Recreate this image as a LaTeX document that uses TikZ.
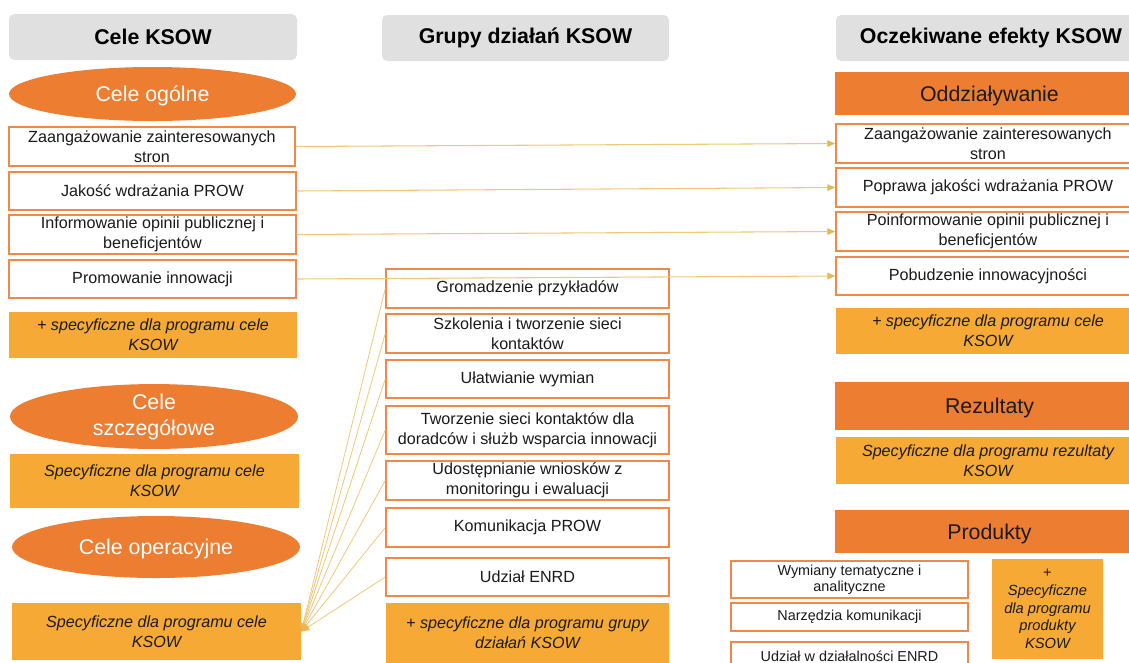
\documentclass[tikz,border=0pt]{standalone}
\usepackage{fontspec}
\setmainfont{Liberation Sans}
\usetikzlibrary{shapes.geometric,arrows.meta}
\definecolor{headgray}{HTML}{E0E0E0}
\definecolor{darkorange}{HTML}{ED7D31}
\definecolor{lightorange}{HTML}{F6A935}
\definecolor{boxborder}{HTML}{F0884A}
\definecolor{linkgold}{HTML}{F0C878}
\definecolor{tipgold}{HTML}{E8B84A}
\definecolor{ink}{HTML}{1A1A1A}
\newcommand{\bodyfont}{\fontsize{12.1}{15}\selectfont}
\newcommand{\smallfont}{\fontsize{10.8}{11.8}\selectfont}
\newcommand{\headfont}{\fontsize{16}{19}\selectfont\bfseries}
\newcommand{\bigfont}{\fontsize{16}{19.5}\selectfont}
% a node filling the rectangle with corners (x1,y1) and (x2,y2), in pixel units
% #1 style, #2 name, #3 x1, #4 y1, #5 x2, #6 y2, #7 text
\newcommand{\areanode}[7]{%
  \node[#1, minimum width={0.75pt*(#5-#3)}, minimum height={0.75pt*(#6-#4)}]
    (#2) at ({(#3+#5)/2},{(#4+#6)/2}) {#7};}
\begin{document}
\begin{tikzpicture}[x=0.75pt,y=-0.75pt,
  header/.style={fill=headgray, rounded corners=4pt, inner sep=0pt, font=\headfont, text=black},
  goal/.style={ellipse, fill=darkorange, inner sep=0pt, font=\bigfont, text=white, align=center},
  oneline/.style={text depth=0pt},
  band/.style={fill=darkorange, inner sep=0pt, font=\bigfont, text=ink, oneline},
  box/.style={draw=boxborder, fill=white, line width=1.1pt, inner sep=0pt, align=center, font=\bodyfont, text=ink},
  sbox/.style={box, font=\smallfont},
  extra/.style={fill=lightorange, inner sep=0pt, align=center, font=\bodyfont\itshape, text=ink},
  conn/.style={draw=linkgold, line width=0.8pt, -{Triangle[length=6pt,width=5pt,color=tipgold]}},
  fan/.style={draw=linkgold, line width=0.6pt, -{Triangle[length=6pt,width=5pt,color=tipgold]}}
]
\useasboundingbox (0,0) rectangle (1129,662);
\clip (0,0) rectangle (1129,662);

% column headers
\areanode{header}{h1}{9}{14}{297}{60}{Cele KSOW}
\areanode{header}{h2}{382}{15}{669}{61}{Grupy działań KSOW}
\areanode{header}{h3}{836}{15}{1146}{61}{Oczekiwane efekty KSOW}

% left column: goals
\areanode{goal, oneline}{g1}{9}{67}{296}{121}{Cele ogólne}
\areanode{box}{l1}{9}{127}{295}{166}{Zaangażowanie zainteresowanych\\stron}
\areanode{box}{l2}{9}{172}{296}{210}{Jakość wdrażania PROW}
\areanode{box}{l3}{9}{215}{296}{254}{Informowanie opinii publicznej i\\beneficjentów}
\areanode{box}{l4}{9}{260}{296}{298}{Promowanie innowacji}
\areanode{extra}{l5}{9}{312}{297}{358}{+ specyficzne dla programu cele\\KSOW}
\areanode{goal}{g2}{10}{386}{298}{447}{Cele\\szczegółowe}
\areanode{extra}{l6}{10}{454}{299}{508}{Specyficzne dla programu cele\\KSOW}
\areanode{goal, oneline}{g3}{12}{516}{300}{578}{Cele operacyjne}
\areanode{extra}{ops}{12}{603}{301}{660}{Specyficzne dla programu cele\\KSOW}

% middle column: groups of activities
\areanode{box}{m1}{386}{269}{669}{308}{Gromadzenie przykładów}
\areanode{box}{m2}{386}{314}{669}{353}{Szkolenia i tworzenie sieci\\kontaktów}
\areanode{box}{m3}{386}{360}{669}{398}{Ułatwianie wymian}
\areanode{box}{m4}{386}{406}{669}{454}{Tworzenie sieci kontaktów dla\\doradców i służb wsparcia innowacji}
\areanode{box}{m5}{386}{461}{669}{500}{Udostępnianie wniosków z\\monitoringu i ewaluacji}
\areanode{box}{m6}{386}{508}{669}{547}{Komunikacja PROW}
\areanode{box}{m7}{386}{558}{669}{596}{Udział ENRD}
\areanode{extra}{m8}{386}{603}{669}{663}{+ specyficzne dla programu grupy\\działań KSOW}

% right column: expected effects
\areanode{band}{r0}{835}{72}{1144}{115}{Oddziaływanie}
\areanode{box}{r1}{836}{124}{1140}{163}{Zaangażowanie zainteresowanych\\stron}
\areanode{box}{r2}{836}{168}{1140}{207}{Poprawa jakości wdrażania PROW}
\areanode{box}{r3}{836}{212}{1140}{251}{Poinformowanie opinii publicznej i\\beneficjentów}
\areanode{box}{r4}{836}{257}{1140}{295}{Pobudzenie innowacyjności}
\areanode{extra}{r5}{836}{308}{1140}{354}{+ specyficzne dla programu cele\\KSOW}
\areanode{band}{rr}{835}{382}{1144}{430}{Rezultaty}
\areanode{extra}{rr1}{836}{437}{1140}{484}{Specyficzne dla programu rezultaty\\KSOW}
\areanode{band}{rp}{835}{510}{1144}{553}{Produkty}
\areanode{sbox}{p1}{731}{561}{968}{598}{Wymiany tematyczne i\\analityczne}
\areanode{sbox}{p2}{731}{603}{968}{631}{Narzędzia komunikacji}
\areanode{sbox}{p3}{731}{642}{968}{670}{Udział w działalności ENRD}
\areanode{extra, font=\fontsize{11}{13.3}\selectfont\itshape}{p4}{992}{559}{1103}{659}{\upshape+\\Specyficzne\\dla programu\\produkty\\KSOW}

% links between general goals and impacts
\draw[conn] (l1.east) -- (r1.west);
\draw[conn] (l2.east) -- (r2.west);
\draw[conn] (l3.east) -- (r3.west);
\draw[conn] (l4.east) -- (r4.west);

% activity groups feeding the operational goals
\foreach \m in {m1,m2,m3,m4,m5,m6,m7}
  \draw[fan] (\m.west) -- (ops.east);
\end{tikzpicture}
\end{document}
